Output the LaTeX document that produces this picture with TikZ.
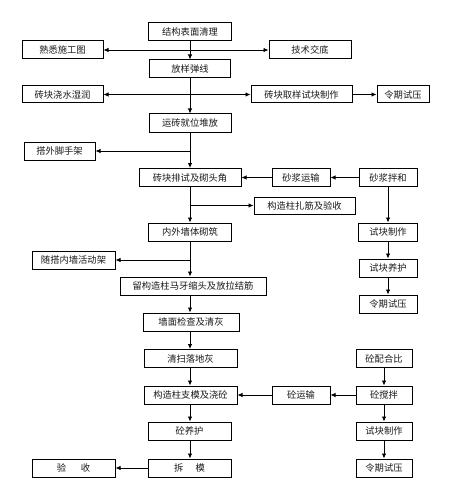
\documentclass[tikz,border=0pt]{standalone}
\usepackage{fontspec}
\usepackage{tikz}
\usetikzlibrary{arrows.meta,positioning}
\newfontfamily\cjk{Noto Sans CJK SC}
\definecolor{Ink}{HTML}{1A1A1A}
\definecolor{Frame}{HTML}{000000}
\tikzset{
  flow/.style={draw=Frame,line width=1pt,minimum height=18pt,inner sep=0pt,align=center,fill=white,text=Ink,font=\cjk\fontsize{9.3pt}{10pt}\selectfont},
  arrow/.style={-{Latex[length=5pt,width=4.5pt]},line width=0.8pt,draw=Frame},
  dblArrow/.style={{Latex[length=5pt,width=4.5pt]}-{Latex[length=5pt,width=4.5pt]},line width=0.8pt,draw=Frame}
}
\begin{document}
\begin{tikzpicture}[x=1pt,y=-1pt]
\useasboundingbox[fill=white] (0,0) rectangle (460,500);
% main column
\node[flow,minimum width=83pt] (clean) at (190,32) {结构表面清理};
\node[flow,minimum width=81pt] (layout) at (190,69) {放样弹线};
\node[flow,minimum width=82pt] (stack) at (190,123) {运砖就位堆放};
\node[flow,minimum width=102pt] (corner) at (190,177.5) {砖块排试及砌头角};
\node[flow,minimum width=83pt] (wall) at (190,232) {内外墙体砌筑};
\node[flow,minimum width=146pt] (tooth) at (193,286) {留构造柱马牙缩头及放拉结筋};
\node[flow,minimum width=96pt] (check) at (191,322) {墙面检查及清灰};
\node[flow,minimum width=93pt] (sweep) at (190.5,358.5) {清扫落地灰};
\node[flow,minimum width=93pt] (pour) at (190.5,395) {构造柱支模及浇砼};
\node[flow,minimum width=83pt] (curing) at (189.5,431) {砼养护};
\node[flow,minimum width=83pt] (strip) at (189.5,468) {拆\hspace{1.3em}模};
% left side
\node[flow,minimum width=81pt] (drawing) at (62.5,50) {熟悉施工图};
\node[flow,minimum width=81pt,minimum height=17pt] (wet) at (62.5,94.5) {砖块浇水湿润};
\node[flow,minimum width=71pt] (scaffold) at (59.5,151) {搭外脚手架};
\node[flow,minimum width=83pt] (frame) at (73.5,260) {随搭内墙活动架};
\node[flow,minimum width=83pt] (accept) at (73.5,468) {验\hspace{1.6em}收};
% right side
\node[flow,minimum width=82pt] (tech) at (310,50) {技术交底};
\node[flow,minimum width=101pt,minimum height=17pt] (sample) at (301.5,94.5) {砖块取样试块制作};
\node[flow,minimum width=52pt,minimum height=17pt] (press1) at (403,94.5) {令期试压};
\node[flow,minimum width=58pt] (mortart) at (301,177.5) {砂浆运输};
\node[flow,minimum width=58pt] (mortarm) at (388,177.5) {砂浆拌和};
\node[flow,minimum width=101pt,minimum height=17pt] (column) at (304.5,205.5) {构造柱扎筋及验收};
\node[flow,minimum width=59pt] (cube1) at (388,232) {试块制作};
\node[flow,minimum width=58pt] (cure1) at (388,268) {试块养护};
\node[flow,minimum width=58pt] (press2) at (388,304) {令期试压};
\node[flow,minimum width=56pt] (mix) at (384,358.5) {砼配合比};
\node[flow,minimum width=58pt] (transport) at (301,395) {砼运输};
\node[flow,minimum width=56pt] (stir) at (384,395) {砼搅拌};
\node[flow,minimum width=56pt] (cube2) at (384,431) {试块制作};
\node[flow,minimum width=56pt] (press3) at (384,468) {令期试压};
% connectors
\draw[dblArrow] (drawing)--(tech);\draw[dblArrow] (wet)--(sample);\draw[arrow] (sample)--(press1);
\draw[arrow] (clean)--(layout);\draw[arrow] (layout)--(stack);\draw[arrow] (stack)--(corner);
\draw[arrow] (stack |- scaffold)--(scaffold);
\draw[arrow] (mortarm)--(mortart);\draw[arrow] (mortart)--(corner);
\draw[arrow] (corner)--(wall);\draw[arrow] (corner |- column)--(column);
\draw[arrow] (mortarm)--(cube1);\draw[arrow] (cube1)--(cure1);\draw[arrow] (cure1)--(press2);
\draw[arrow] (wall.south)--(wall.south |- tooth.north);\draw[arrow] (wall |- frame)--(frame);
\draw[arrow] (tooth.south -| wall)--(wall |- check.north);\draw[arrow] (check.south -| wall)--(wall |- sweep.north);
\draw[arrow] (sweep.south -| wall)--(wall |- pour.north);\draw[arrow] (pour.south -| wall)--(wall |- curing.north);
\draw[arrow] (curing.south -| wall)--(wall |- strip.north);\draw[arrow] (strip)--(accept);
\draw[arrow] (mix)--(stir);\draw[arrow] (stir)--(cube2);\draw[arrow] (cube2)--(press3);
\draw[arrow] (stir)--(transport);\draw[arrow] (transport)--(pour);
\end{tikzpicture}
\end{document}
